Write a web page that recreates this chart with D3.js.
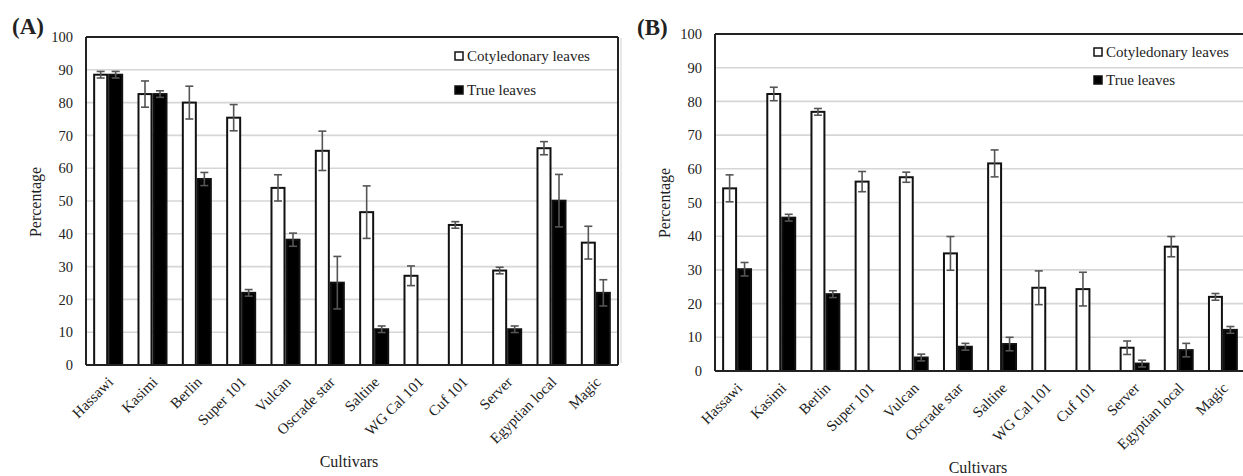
<!DOCTYPE html>
<html>
<head>
<meta charset="utf-8">
<script src="https://cdn.jsdelivr.net/npm/d3@7/dist/d3.min.js"></script>
<style>
  html, body { margin: 0; padding: 0; background: #fff; }
  svg { display: block; }
  text { font-family: "Liberation Serif", "DejaVu Serif", serif; fill: #222; }
</style>
</head>
<body>
<svg id="chart" width="1243" height="476"></svg>
<script>
const categories = ["Hassawi", "Kasimi", "Berlin", "Super 101", "Vulcan", "Oscrade star",
  "Saltine", "WG Cal 101", "Cuf 101", "Server", "Egyptian local", "Magic"];
const seriesNames = ["Cotyledonary leaves", "True leaves"];
const yTicks = [0, 10, 20, 30, 40, 50, 60, 70, 80, 90, 100];

// Panel A
const aCotyledonary = [88.5, 82.6, 80.0, 75.4, 54.0, 65.3, 46.6, 27.2, 42.7, 28.8, 66.1, 37.3];
const aCotyledonaryErr = [1.0, 4.0, 5.0, 4.0, 4.0, 6.0, 8.0, 3.0, 1.0, 1.0, 2.0, 5.0];
const aTrue = [88.5, 82.6, 56.7, 22.0, 38.2, 25.1, 10.9, 0, 0, 10.9, 50.1, 22.0];
const aTrueErr = [1.0, 1.0, 2.0, 1.0, 2.0, 8.0, 1.0, 0, 0, 1.0, 8.0, 4.0];

// Panel B
const bCotyledonary = [54.2, 82.2, 76.9, 56.2, 57.5, 34.9, 61.6, 24.7, 24.3, 6.9, 36.9, 22.0];
const bCotyledonaryErr = [4.0, 2.0, 1.0, 3.0, 1.5, 5.0, 4.0, 5.0, 5.0, 2.0, 3.0, 1.0];
const bTrue = [30.2, 45.5, 22.8, 0, 4.0, 7.2, 8.0, 0, 0, 2.2, 6.2, 12.2];
const bTrueErr = [2.0, 1.0, 1.0, 0, 1.0, 1.0, 2.0, 0, 0, 1.0, 2.0, 1.0];

const svg = d3.select("#chart");

function panel(cfg) {
  const g = svg.append("g");
  const x = d3.scaleBand().domain(categories).range([cfg.left, cfg.right])
    .paddingInner(0.323).paddingOuter(0.1615);
  const x1 = d3.scaleBand().domain(seriesNames).range([0, x.bandwidth()]);
  const y = d3.scaleLinear().domain([0, 100]).range([cfg.bottom, cfg.top]);

  // gridlines
  g.append("g").selectAll("line").data(yTicks.filter(t => t > 0 && t < 100)).join("line")
    .attr("x1", cfg.left).attr("x2", cfg.right)
    .attr("y1", d => y(d)).attr("y2", d => y(d))
    .attr("stroke", "#d6d6d6").attr("stroke-width", 1.6);

  // y axis labels via d3 axis
  const yAxis = d3.axisLeft(y).tickValues(yTicks).tickSize(0).tickPadding(cfg.tickPad);
  const ya = g.append("g").attr("transform", `translate(${cfg.left},0)`).call(yAxis);
  ya.select(".domain").remove();
  ya.selectAll("text").attr("font-family", "Liberation Serif, serif")
    .attr("font-size", 14.5).attr("fill", "#222");

  const rows = categories.map((c, i) => ({
    c,
    vals: [
      { s: seriesNames[0], v: cfg.cot[i], e: cfg.cotErr[i] },
      { s: seriesNames[1], v: cfg.tru[i], e: cfg.truErr[i] }
    ]
  }));

  const grp = g.append("g").selectAll("g").data(rows).join("g")
    .attr("transform", d => `translate(${x(d.c)},0)`);

  grp.selectAll("rect").data(d => d.vals.filter(v => v.v > 0)).join("rect")
    .attr("x", d => x1(d.s) + 1)
    .attr("width", x1.bandwidth() - 2)
    .attr("y", d => y(d.v))
    .attr("height", d => y(0) - y(d.v))
    .attr("fill", d => d.s === seriesNames[0] ? "#fff" : "#000")
    .attr("stroke", "#111").attr("stroke-width", 2);

  // error bars
  const eb = grp.selectAll("g.eb").data(d => d.vals.filter(v => v.e > 0)).join("g").attr("class", "eb");
  const cx = d => x1(d.s) + x1.bandwidth() / 2;
  eb.append("line").attr("x1", cx).attr("x2", cx)
    .attr("y1", d => y(d.v + d.e)).attr("y2", d => y(d.v - d.e))
    .attr("stroke", "#555").attr("stroke-width", 1.6);
  eb.append("line").attr("x1", d => cx(d) - 4).attr("x2", d => cx(d) + 4)
    .attr("y1", d => y(d.v + d.e)).attr("y2", d => y(d.v + d.e))
    .attr("stroke", "#555").attr("stroke-width", 1.6);
  eb.append("line").attr("x1", d => cx(d) - 4).attr("x2", d => cx(d) + 4)
    .attr("y1", d => y(d.v - d.e)).attr("y2", d => y(d.v - d.e))
    .attr("stroke", "#555").attr("stroke-width", 1.6);

  // frame
  const fr = g.append("g").attr("stroke", "#222").attr("stroke-width", 2).attr("fill", "none");
  fr.append("line").attr("x1", cfg.left).attr("x2", cfg.right).attr("y1", y(100)).attr("y2", y(100));
  fr.append("line").attr("x1", cfg.left).attr("x2", cfg.right).attr("y1", y(0)).attr("y2", y(0));
  fr.append("line").attr("x1", cfg.left).attr("x2", cfg.left).attr("y1", y(100)).attr("y2", y(0));
  if (cfg.rightBorder) fr.append("line").attr("x1", cfg.right).attr("x2", cfg.right).attr("y1", y(100)).attr("y2", y(0));

  // x labels
  g.append("g").selectAll("text").data(categories).join("text")
    .attr("transform", d => `translate(${x(d) + x.bandwidth() / 2 + cfg.lblDx},${y(0) + cfg.lblDy}) rotate(-45)`)
    .attr("text-anchor", "end").attr("font-size", 15)
    .text(d => d);

  // axis titles
  g.append("text").attr("x", cfg.xTitleX).attr("y", cfg.xTitleY)
    .attr("text-anchor", "middle").attr("font-size", 16).text("Cultivars");
  g.append("text").attr("transform", `translate(${cfg.yTitleX},${cfg.yTitleY}) rotate(-90)`)
    .attr("text-anchor", "middle").attr("font-size", 16).text("Percentage");

  // panel letter
  g.append("text").attr("x", cfg.letterX).attr("y", cfg.letterY)
    .attr("font-size", 23).attr("font-weight", "bold").attr("fill", "#111").text(cfg.letter);

  // legend
  const lg = g.append("g");
  seriesNames.forEach((s, i) => {
    const ly = cfg.legY + i * cfg.legGap;
    lg.append("rect").attr("x", cfg.legX).attr("y", ly - 8).attr("width", 8).attr("height", 8)
      .attr("fill", i === 0 ? "#fff" : "#000").attr("stroke", "#111").attr("stroke-width", 1.5);
    lg.append("text").attr("x", cfg.legX + 12).attr("y", ly + 1).attr("font-size", 15).text(s);
  });
}

panel({
  left: 86, right: 618, top: 37, bottom: 365, tickPad: 13,
  cot: aCotyledonary, cotErr: aCotyledonaryErr, tru: aTrue, truErr: aTrueErr,
  rightBorder: true, lblDx: 6, lblDy: 18,
  xTitleX: 349, xTitleY: 467, yTitleX: 41, yTitleY: 202,
  letter: "(A)", letterX: 12, letterY: 34,
  legX: 455, legY: 60, legGap: 34
});

// faint frame line on the left of panel B
svg.append("line").attr("x1", 621).attr("x2", 621).attr("y1", 38).attr("y2", 363)
  .attr("stroke", "#d0d0d0").attr("stroke-width", 1);

panel({
  left: 715, right: 1245, top: 34, bottom: 371, tickPad: 13,
  cot: bCotyledonary, cotErr: bCotyledonaryErr, tru: bTrue, truErr: bTrueErr,
  rightBorder: false, lblDx: 6, lblDy: 18,
  xTitleX: 978, xTitleY: 473, yTitleX: 670, yTitleY: 203,
  letter: "(B)", letterX: 637, letterY: 35,
  legX: 1094, legY: 56, legGap: 28
});
</script>
</body>
</html>
